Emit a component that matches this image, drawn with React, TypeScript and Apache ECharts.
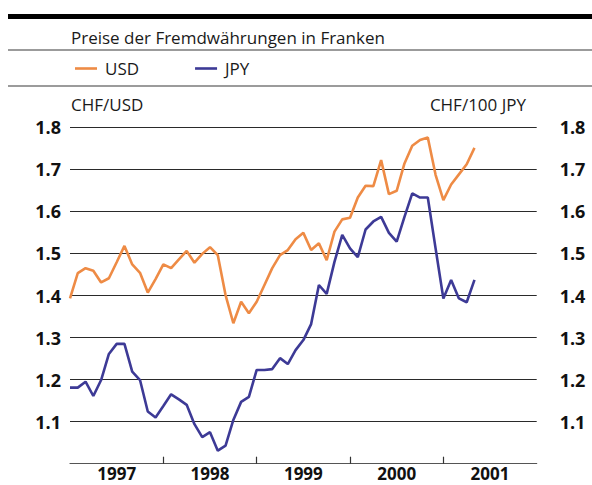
import React, { useEffect, useRef } from 'react';
import * as echarts from 'echarts';

const years = ['1997', '1998', '1999', '2000', '2001'];
const seriesNames = ['USD', 'JPY'];
const usd = [
  1.393, 1.453, 1.465, 1.459, 1.431, 1.441, 1.479, 1.518, 1.474, 1.454, 1.407, 1.439,
  1.474, 1.465, 1.486, 1.506, 1.478, 1.499, 1.515, 1.496, 1.401, 1.334, 1.385, 1.358,
  1.385, 1.425, 1.465, 1.496, 1.508, 1.534, 1.549, 1.508, 1.524, 1.484, 1.552, 1.581,
  1.585, 1.633, 1.661, 1.660, 1.722, 1.641, 1.649, 1.714, 1.756, 1.770, 1.776, 1.687,
  1.627, 1.664, 1.688, 1.712, 1.751,
];
const jpy = [
  1.181, 1.181, 1.195, 1.161, 1.199, 1.261, 1.285, 1.285, 1.219, 1.199, 1.124, 1.110,
  1.137, 1.165, 1.153, 1.140, 1.094, 1.063, 1.075, 1.031, 1.043, 1.104, 1.147, 1.159,
  1.223, 1.223, 1.225, 1.251, 1.237, 1.270, 1.294, 1.332, 1.425, 1.404, 1.480, 1.544,
  1.512, 1.491, 1.557, 1.576, 1.587, 1.549, 1.528, 1.587, 1.643, 1.633, 1.633, 1.512,
  1.393, 1.437, 1.393, 1.384, 1.437,
];
const yTicks = [1.0, 1.8, 0.1];
const titleText = 'Preise der Fremdwährungen in Franken';
const leftUnit = 'CHF/USD';
const rightUnit = 'CHF/100 JPY';

const ORANGE = '#EE8B45';
const PURPLE = '#3D3A96';
const FONT = '"Open Sans", "Noto Sans", sans-serif';

export default function App() {
  const ref = useRef<HTMLDivElement>(null);
  useEffect(() => {
    if (!ref.current) return;
    const chart = echarts.init(ref.current, undefined, { renderer: 'svg' });
    const toPairs = (arr: number[]) => arr.map((v, i) => [i, v]);
    const yLabel = (v: number) => (v <= yTicks[0] + 1e-6 ? '' : v.toFixed(1));
    const yAxisBase = {
      type: 'value',
      min: yTicks[0],
      max: yTicks[1],
      interval: yTicks[2],
      axisLine: { show: false },
      axisTick: { show: false },
      splitLine: { show: false },
    };
    chart.setOption({
      animation: false,
      textStyle: { fontFamily: FONT },
      grid: { left: 70, right: 55.3, top: 127.3, bottom: 21.3 },
      legend: {
        left: 70,
        top: 55,
        icon: 'rect',
        itemWidth: 22,
        itemHeight: 2.6,
        itemGap: 56,
        textStyle: { fontSize: 17, color: '#1a1a1a', fontFamily: FONT, padding: [0, 0, 0, 3] },
        data: seriesNames,
      },
      xAxis: {
        type: 'value',
        min: 0,
        max: years.length * 12,
        interval: 12,
        axisLine: { show: true, lineStyle: { color: '#555', width: 1.2 } },
        axisTick: {
          show: true,
          inside: true,
          length: 7,
          lineStyle: { color: '#333', width: 1.2 },
          customValues: years.slice(1).map((_, i) => (i + 1) * 12),
        },
        axisLabel: {
          show: true,
          customValues: years.map((_, i) => i * 12 + 6),
          formatter: (v: number) => years[Math.floor(v / 12)] ?? '',
          fontSize: 17,
          lineHeight: 17,
          fontWeight: 'bold',
          color: '#111',
          fontFamily: FONT,
          margin: 1,
        },
        splitLine: { show: false },
      },
      yAxis: [
        {
          ...yAxisBase,
          position: 'left',
          splitLine: { show: true, lineStyle: { color: '#2a2a2a', width: 1.2 } },
          axisLabel: {
            formatter: yLabel,
            fontSize: 18,
            fontWeight: 'bold',
            color: '#111',
            fontFamily: FONT,
            margin: 9,
          },
        },
        {
          ...yAxisBase,
          position: 'right',
          axisLabel: {
            formatter: yLabel,
            fontSize: 18,
            fontWeight: 'bold',
            color: '#111',
            fontFamily: FONT,
            margin: 23,
            align: 'left',
          },
        },
      ],
      series: [
        {
          name: seriesNames[0],
          type: 'line',
          yAxisIndex: 0,
          data: toPairs(usd),
          symbol: 'none',
          showSymbol: false,
          lineStyle: { color: ORANGE, width: 2.6 },
          itemStyle: { color: ORANGE },
          z: 3,
        },
        {
          name: seriesNames[1],
          type: 'line',
          yAxisIndex: 1,
          data: toPairs(jpy),
          symbol: 'none',
          showSymbol: false,
          lineStyle: { color: PURPLE, width: 2.6 },
          itemStyle: { color: PURPLE },
          z: 3,
        },
      ],
      graphic: [
        { type: 'rect', shape: { x: 8, y: 14, width: 584, height: 5 }, style: { fill: '#000' } },
        { type: 'rect', shape: { x: 8, y: 49.3, width: 584, height: 1.5 }, style: { fill: '#7a7a7a' } },
        { type: 'rect', shape: { x: 8, y: 85.3, width: 584, height: 1.5 }, style: { fill: '#7a7a7a' } },
        {
          type: 'text',
          x: 71,
          y: 37,
          style: { text: titleText, fontSize: 17, fontFamily: FONT, fill: '#1a1a1a', verticalAlign: 'middle' },
        },
        {
          type: 'text',
          x: 71,
          y: 104,
          style: { text: leftUnit, fontSize: 17, fontFamily: FONT, fill: '#1a1a1a', verticalAlign: 'middle' },
        },
        {
          type: 'text',
          x: 526,
          y: 104,
          style: {
            text: rightUnit,
            fontSize: 17,
            fontFamily: FONT,
            fill: '#1a1a1a',
            verticalAlign: 'middle',
            align: 'right',
          },
        },
      ],
    });
    return () => chart.dispose();
  }, []);
  return (
    <div
      ref={ref}
      style={{ position: 'fixed', left: 0, top: 0, width: 592, height: 485, background: '#fff' }}
    />
  );
}
